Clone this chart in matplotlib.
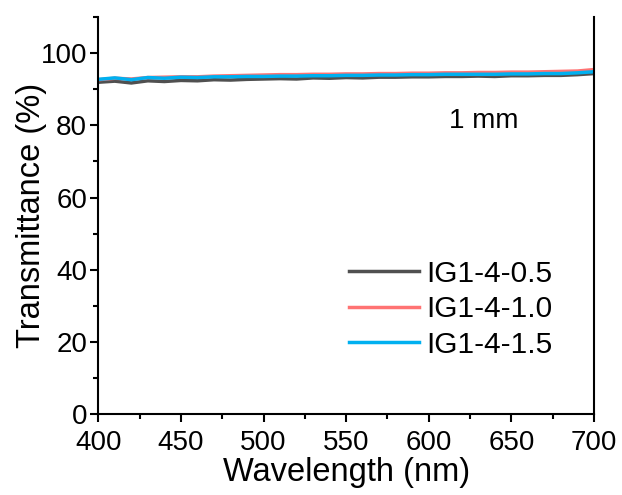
import matplotlib.pyplot as plt
from matplotlib.ticker import MultipleLocator

plt.rcParams['font.family'] = ['Liberation Sans', 'DejaVu Sans']

wavelength = [400, 410, 420, 430, 440, 450, 460, 470, 480, 490, 500,
              510, 520, 530, 540, 550, 560, 570, 580, 590, 600,
              610, 620, 630, 640, 650, 660, 670, 680, 690, 700]

ig_05 = [91.9, 92.2, 91.7, 92.3, 92.1, 92.4, 92.3, 92.6, 92.5, 92.7, 92.8,
         92.9, 92.8, 93.1, 93.0, 93.2, 93.1, 93.3, 93.3, 93.4, 93.4,
         93.5, 93.5, 93.6, 93.5, 93.7, 93.7, 93.8, 93.8, 94.0, 94.3]
ig_10 = [92.6, 93.0, 92.8, 93.2, 93.3, 93.4, 93.4, 93.6, 93.7, 93.8, 93.9,
         94.0, 94.0, 94.1, 94.1, 94.2, 94.2, 94.3, 94.3, 94.4, 94.4,
         94.5, 94.5, 94.6, 94.6, 94.7, 94.7, 94.8, 94.9, 95.0, 95.4]
ig_15 = [92.7, 93.1, 92.6, 93.2, 93.0, 93.3, 93.2, 93.4, 93.4, 93.5, 93.5,
         93.6, 93.6, 93.7, 93.7, 93.8, 93.8, 93.9, 93.9, 94.0, 94.0,
         94.1, 94.1, 94.1, 94.1, 94.2, 94.2, 94.3, 94.3, 94.5, 94.8]

fig, ax = plt.subplots(figsize=(6.22, 4.95), dpi=100)
fig.subplots_adjust(left=0.158, right=0.955, bottom=0.163, top=0.966)

ax.plot(wavelength, ig_05, color='#505050', lw=2.5, label='IG1-4-0.5')
ax.plot(wavelength, ig_10, color='#ff7373', lw=2.5, label='IG1-4-1.0')
ax.plot(wavelength, ig_15, color='#00b0f0', lw=2.5, label='IG1-4-1.5')

ax.set_xlim(400, 700)
ax.set_ylim(0, 110)
ax.xaxis.set_major_locator(MultipleLocator(50))
ax.xaxis.set_minor_locator(MultipleLocator(25))
ax.yaxis.set_major_locator(MultipleLocator(20))
ax.yaxis.set_minor_locator(MultipleLocator(10))
ax.tick_params(which='major', direction='out', length=6, width=1.5,
               labelsize=20, pad=2)
ax.tick_params(axis='x', which='major', pad=5)
ax.tick_params(which='minor', direction='out', length=3.5, width=1.5)
ax.spines['top'].set_visible(False)
for s in ['left', 'bottom', 'right']:
    ax.spines[s].set_linewidth(1.5)

ax.set_xlabel('Wavelength (nm)', fontsize=23.5, labelpad=1)
ax.set_ylabel('Transmittance (%)', fontsize=23.5, labelpad=-4.5)
ax.text(0.708, 0.738, '1 mm', transform=ax.transAxes, fontsize=20,
        va='center')

ax.legend(loc='center left', frameon=False, fontsize=21.5, handlelength=2.35,
          handletextpad=0.23, labelspacing=0.25,
          bbox_to_anchor=(0.452, 0.264))

fig.savefig('out.png', dpi=100)
